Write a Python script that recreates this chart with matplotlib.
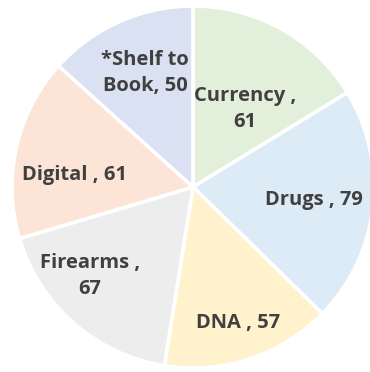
import matplotlib.pyplot as plt

categories = ["Currency", "Drugs", "DNA", "Firearms", "Digital", "*Shelf to Book"]
values = [61, 79, 57, 67, 61, 50]
colors = ["#E2EFDA", "#DDEBF7", "#FFF2CC", "#EDEDED", "#FCE4D6", "#D9E1F2"]
label_texts = ["Currency ,\n61", "Drugs , 79", "DNA , 57", "Firearms ,\n67", "Digital , 61", "*Shelf to\nBook, 50"]
# label centre positions in pixels (layout)
label_px = [(245, 109), (314, 200), (238, 323), (90, 276), (74, 175), (145, 73)]

W, H = 370, 372
cx, cy, R = 193, 187, 181

fig = plt.figure(figsize=(W / 100, H / 100), dpi=100)
ax = fig.add_axes([0, 0, 1, 1])
ax.pie(values, colors=colors, startangle=90, counterclock=False, radius=1,
       wedgeprops=dict(edgecolor="white", linewidth=2.6))
ax.set_xlim(-cx / R, (W - cx) / R)
ax.set_ylim(-(H - cy) / R, cy / R)
ax.set_aspect("equal")
ax.axis("off")

for txt, (px, py) in zip(label_texts, label_px):
    ax.text((px - cx) / R, (cy - py) / R, txt, ha="center", va="center",
            fontsize=14.5, fontweight="bold", color="#404040",
            family="Open Sans", linespacing=1.45)

fig.savefig("out.png", dpi=100)
